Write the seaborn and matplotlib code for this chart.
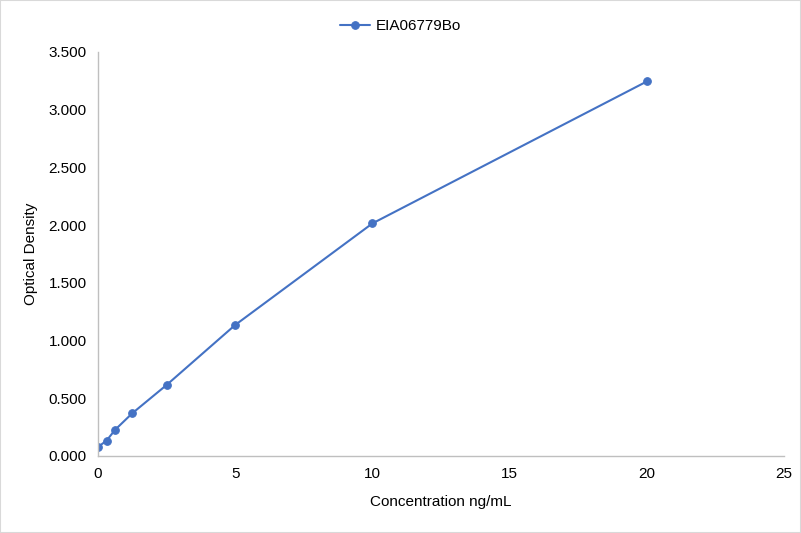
import matplotlib
matplotlib.use("Agg")
import matplotlib.pyplot as plt
import seaborn as sns
import pandas as pd
from matplotlib.ticker import FormatStrFormatter

concentracao = [0, 0.313, 0.625, 1.25, 2.5, 5, 10, 20]
densidade = [0.078, 0.133, 0.227, 0.370, 0.615, 1.135, 2.015, 3.245]
serie = "EIA06779Bo"

sns.set_style("white")
plt.rcParams['font.family'] = ['Liberation Sans', 'DejaVu Sans']
plt.rcParams['text.color'] = '#000000'
plt.rcParams['axes.labelcolor'] = '#000000'

df = pd.DataFrame({"x": concentracao, "y": densidade, "serie": serie})

fig = plt.figure(figsize=(8.01, 5.33), dpi=100)
ax = fig.add_axes([0.1223, 0.1445, 0.8567, 0.758])
cor = "#4472C4"
sns.lineplot(data=df, x="x", y="y", marker="o", color=cor, linewidth=1.5,
             markersize=5.5, markeredgecolor=cor, label=serie, ax=ax)

ax.set_xlim(0, 25)
ax.set_ylim(0, 3.5)
ax.set_xticks([0, 5, 10, 15, 20, 25])
ax.set_yticks([0, 0.5, 1.0, 1.5, 2.0, 2.5, 3.0, 3.5])
ax.yaxis.set_major_formatter(FormatStrFormatter('%.3f'))
ax.tick_params(labelsize=11, colors="#000000", length=0, pad=8)
ax.set_xlabel("Concentration ng/mL", fontsize=11, labelpad=10)
ax.set_ylabel("Optical Density", fontsize=11, labelpad=8)

for s in ["top", "right"]:
    ax.spines[s].set_visible(False)
for s in ["left", "bottom"]:
    ax.spines[s].set_color("#BFBFBF")
    ax.spines[s].set_linewidth(1)

ax.legend(loc="upper center", bbox_to_anchor=(0.5, 0.99),
          bbox_transform=fig.transFigure, frameon=False,
          fontsize=11, handlelength=2, handletextpad=0.4)

fig.patches.append(plt.Rectangle((0, 0), 1, 1, transform=fig.transFigure,
                                 fill=False, edgecolor="#D9D9D9", linewidth=1.5))

fig.savefig("out.png", dpi=100)
